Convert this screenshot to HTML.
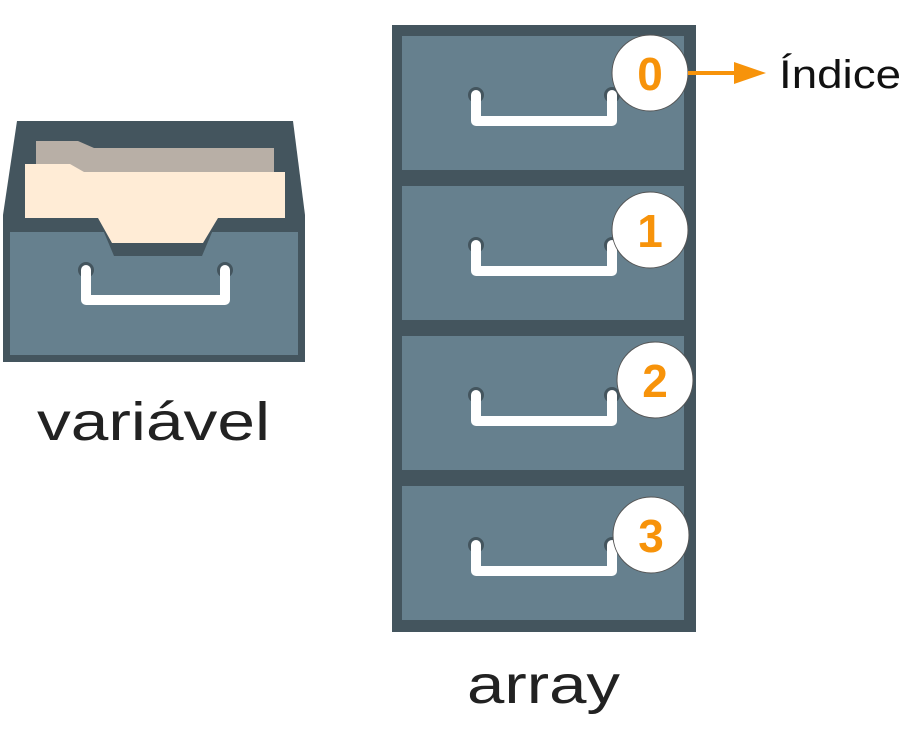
<!DOCTYPE html>
<html><head><meta charset="utf-8"><style>
html,body{margin:0;padding:0;background:#fff;width:906px;height:731px;overflow:hidden}
svg{display:block}
</style></head><body>
<svg width="906" height="731" viewBox="0 0 906 731">
<g>
  <polygon points="17,121 293,121 305,215 305,362 3,362 3,215" fill="#44555e"/>
  <polygon points="36,141 78,141 94,148 274,148 274,172 36,172" fill="#b8afa6"/>
  <rect x="10" y="232" width="288" height="123" fill="#66808e"/>
  <polygon points="98,218 218,218 202,256 114,256" fill="#44555e"/>
  <polygon points="25,164 70,164 84,172 285,172 285,218 218,218 203,243 112,243 98,218 25,218" fill="#ffecd6"/>
  <g>
    <circle cx="86" cy="270" r="8" fill="#44555e"/><circle cx="225" cy="270" r="8" fill="#44555e"/>
    <polyline points="86,270 86,300 225,300 225,270" fill="none" stroke="#fff" stroke-width="10" stroke-linecap="round" stroke-linejoin="round"/>
  </g>
</g>
<text x="37" y="440" font-family="Liberation Sans, sans-serif" font-size="54" fill="#222" textLength="233" lengthAdjust="spacingAndGlyphs">variável</text>

<g>
  <rect x="392" y="25" width="304" height="607" fill="#44555e"/>
  <g>
    <rect x="402" y="36" width="282" height="134" fill="#66808e"/>
    <circle cx="476" cy="95" r="8" fill="#44555e"/><circle cx="612" cy="95" r="8" fill="#44555e"/>
    <polyline points="476,95 476,121 612,121 612,95" fill="none" stroke="#fff" stroke-width="10" stroke-linecap="round" stroke-linejoin="round"/>
  </g>
  <g transform="translate(0,150)">
    <rect x="402" y="36" width="282" height="134" fill="#66808e"/>
    <circle cx="476" cy="95" r="8" fill="#44555e"/><circle cx="612" cy="95" r="8" fill="#44555e"/>
    <polyline points="476,95 476,121 612,121 612,95" fill="none" stroke="#fff" stroke-width="10" stroke-linecap="round" stroke-linejoin="round"/>
  </g>
  <g transform="translate(0,300)">
    <rect x="402" y="36" width="282" height="134" fill="#66808e"/>
    <circle cx="476" cy="95" r="8" fill="#44555e"/><circle cx="612" cy="95" r="8" fill="#44555e"/>
    <polyline points="476,95 476,121 612,121 612,95" fill="none" stroke="#fff" stroke-width="10" stroke-linecap="round" stroke-linejoin="round"/>
  </g>
  <g transform="translate(0,450)">
    <rect x="402" y="36" width="282" height="134" fill="#66808e"/>
    <circle cx="476" cy="95" r="8" fill="#44555e"/><circle cx="612" cy="95" r="8" fill="#44555e"/>
    <polyline points="476,95 476,121 612,121 612,95" fill="none" stroke="#fff" stroke-width="10" stroke-linecap="round" stroke-linejoin="round"/>
  </g>
</g>
<g font-family="Liberation Sans, sans-serif" font-weight="bold" font-size="46" fill="#f7930a" text-anchor="middle">
  <g><circle cx="650" cy="73" r="38" fill="#fff" stroke="#555" stroke-width="1"/><text x="650" y="90">0</text></g>
  <g><circle cx="650" cy="230" r="38" fill="#fff" stroke="#555" stroke-width="1"/><text x="650" y="247">1</text></g>
  <g><circle cx="655" cy="380" r="38" fill="#fff" stroke="#555" stroke-width="1"/><text x="655" y="397">2</text></g>
  <g><circle cx="651" cy="535" r="38" fill="#fff" stroke="#555" stroke-width="1"/><text x="651" y="552">3</text></g>
</g>
<g>
  <line x1="688" y1="73" x2="740" y2="73" stroke="#f7930a" stroke-width="4"/>
  <polygon points="734,62 766,73 734,84" fill="#f7930a"/>
</g>
<text x="779" y="88" font-family="Liberation Sans, sans-serif" font-size="40" fill="#111" textLength="122" lengthAdjust="spacingAndGlyphs">Índice</text>
<text x="467" y="703" font-family="Liberation Sans, sans-serif" font-size="54" fill="#222" textLength="153" lengthAdjust="spacingAndGlyphs">array</text>
</svg>
</body></html>
